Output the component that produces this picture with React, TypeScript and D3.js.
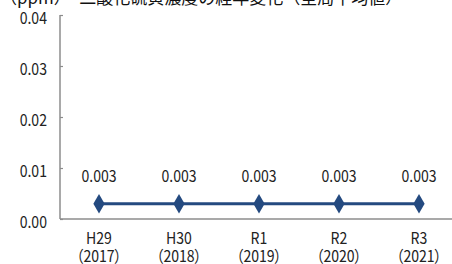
import { useEffect, useRef } from "react";
import * as d3 from "d3";

const years = ["H29", "H30", "R1", "R2", "R3"];
const westernYears = ["（2017）", "（2018）", "（2019）", "（2020）", "（2021）"];
const so2 = [0.003, 0.003, 0.003, 0.003, 0.003];
const yTicks = [0, 0.01, 0.02, 0.03, 0.04];
const title = "（ppm）　二酸化硫黄濃度の経年変化（全局平均値）";

const App = () => {
  const svgRef = useRef<SVGSVGElement>(null);

  useEffect(() => {
    const svg = d3.select(svgRef.current);
    const width = 452;
    const font = "'Noto Sans CJK JP', 'Noto Sans', sans-serif";
    const sx = 0.88; // 細めの字形に寄せる

    svg.selectAll("*").remove();

    const x = d3.scaleBand().domain(years).range([59, 459]);
    const y = d3.scaleLinear().domain([0, 0.04]).range([219, 15]);
    const cx = (d: string) => (x(d) as number) + x.bandwidth() / 2;

    // タイトル（上が切れている）
    svg
      .append("text")
      .attr("x", 0)
      .attr("y", 4)
      .attr("font-family", font)
      .attr("font-size", 17)
      .attr("fill", "#111")
      .text(title);

    // Y軸
    const yAxis = svg
      .append("g")
      .attr("transform", `translate(60,0)`)
      .call(
        d3
          .axisRight(y)
          .tickValues(yTicks)
          .tickSize(3)
          .tickFormat(() => "")
      );
    yAxis.select(".domain").remove();
    yAxis.selectAll("line").attr("stroke", "#8c8c8c").attr("stroke-width", 1.2);

    svg
      .append("line")
      .attr("x1", 60)
      .attr("x2", 60)
      .attr("y1", y(0.04))
      .attr("y2", y(0))
      .attr("stroke", "#8c8c8c")
      .attr("stroke-width", 1.5);

    svg
      .append("g")
      .selectAll("text")
      .data(yTicks)
      .enter()
      .append("text")
      .attr("transform", (d) => `translate(47,${y(d) + 3}) scale(${sx},1)`)
      .attr("dy", "0.36em")
      .attr("text-anchor", "end")
      .attr("font-family", font)
      .attr("font-size", 16)
      .attr("fill", "#222")
      .text((d) => d.toFixed(2));

    // X軸
    svg
      .append("line")
      .attr("x1", 60)
      .attr("x2", width)
      .attr("y1", y(0))
      .attr("y2", y(0))
      .attr("stroke", "#8c8c8c")
      .attr("stroke-width", 1.5);

    svg
      .append("g")
      .selectAll("text")
      .data(years)
      .enter()
      .append("text")
      .attr("transform", (d) => `translate(${cx(d)},238) scale(${sx},1)`)
      .attr("dy", "0.36em")
      .attr("text-anchor", "middle")
      .attr("font-family", font)
      .attr("font-size", 16)
      .attr("fill", "#222")
      .text((d) => d);

    svg
      .append("g")
      .selectAll("text")
      .data(westernYears)
      .enter()
      .append("text")
      .attr("transform", (d, i) => `translate(${cx(years[i])},256) scale(${sx},1)`)
      .attr("dy", "0.36em")
      .attr("text-anchor", "middle")
      .attr("font-family", font)
      .attr("font-size", 16)
      .style("font-feature-settings", "'palt'")
      .attr("fill", "#222")
      .text((d) => d);

    // 折れ線
    svg
      .append("path")
      .datum(so2)
      .attr("fill", "none")
      .attr("stroke", "#244a80")
      .attr("stroke-width", 3)
      .attr(
        "d",
        d3
          .line<number>()
          .x((d, i) => cx(years[i]))
          .y((d) => y(d))
      );

    svg
      .append("g")
      .selectAll("path")
      .data(so2)
      .enter()
      .append("path")
      .attr("transform", (d, i) => `translate(${cx(years[i])},${y(d)})`)
      .attr("d", d3.symbol(d3.symbolDiamond, 110)())
      .attr("fill", "#244a80");

    // データラベル
    svg
      .append("g")
      .selectAll("text")
      .data(so2)
      .enter()
      .append("text")
      .attr("transform", (d, i) => `translate(${cx(years[i])},${y(d) - 27}) scale(${sx},1)`)
      .attr("dy", "0.36em")
      .attr("text-anchor", "middle")
      .attr("font-family", font)
      .attr("font-size", 16)
      .attr("fill", "#222")
      .text((d) => d.toFixed(3));
  }, []);

  return (
    <svg
      ref={svgRef}
      width={452}
      height={264}
      style={{ position: "absolute", left: 0, top: 0, background: "#fff" }}
    ></svg>
  );
};

export default App;
